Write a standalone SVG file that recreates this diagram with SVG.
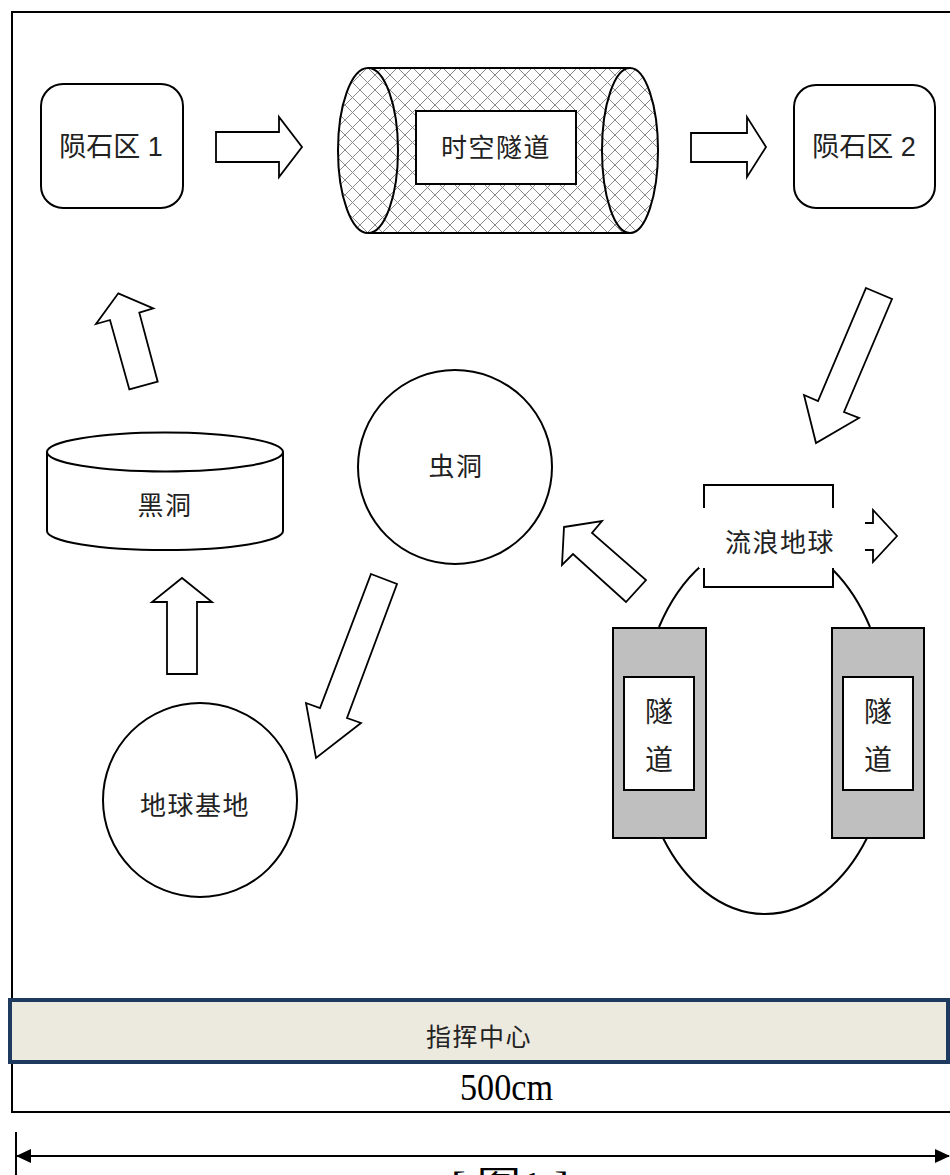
<svg xmlns="http://www.w3.org/2000/svg" width="950" height="1175" viewBox="0 0 950 1175">
<defs>
<style>
.ln{fill:none;stroke:#000;stroke-width:2}
.shape{fill:#fff;stroke:#000;stroke-width:2}
.arr{fill:#fff;stroke:#000;stroke-width:1.8;stroke-linejoin:miter}
.lbl{font-family:"Liberation Sans","Noto Sans CJK SC",sans-serif;font-size:26px;letter-spacing:1.5px;fill:#222;text-anchor:middle;dominant-baseline:central}
.trk{fill:#bfbfbf;stroke:#000;stroke-width:2}
</style>
<pattern id="hatch" patternUnits="userSpaceOnUse" width="15" height="15">
<path d="M0,0 L15,15 M15,0 L0,15" stroke="#8a8a8a" stroke-width="1"/>
</pattern>
<marker id="ah" markerWidth="15" markerHeight="14" refX="14" refY="7" orient="auto-start-reverse" markerUnits="userSpaceOnUse">
<path d="M0,0 L15,7 L0,14 Z" fill="#000"/>
</marker>
</defs>
<rect width="950" height="1175" fill="#fff"/>

<g id="frame">
<path class="ln" d="M950,12 H12 V1112 H950"/>
</g>

<g id="connectors">
<path class="arr" d="M216,132 H279 V117 L302,147 L279,177 V162 H216 Z"/>
<path class="arr" d="M691,133 H747 V117 L766,147 L747,177 V162 H691 Z"/>
<polygon class="arr" points="866,288 892,299 844,412 859,418 816,443 804,395 818,401"/>
<polygon class="arr" points="129.3,389.3 110,320 96,324 118.3,293.3 153.3,308.3 139.3,312.7 157.7,381.7"/>
<path class="arr" d="M167,674 V602 H152 L182,578 L212,602 H197 V674 Z"/>
<polygon class="arr" points="371,574 397,584 347,718 361,723 316,758 306,703 320,708"/>
<polygon class="arr" points="564,527 602,521 592,533 646,580 626,602 573,554 562,565"/>
<path class="arr" d="M865,523 H873 V510 L897,536 L873,562 V550 H865"/>
</g>

<g id="node-meteor1">
<rect class="shape" x="41" y="84" width="142" height="124" rx="22"/>
<text class="lbl" x="111" y="147" style="font-size:27px;letter-spacing:0">陨石区 1</text>
</g>

<g id="node-tunnel">
<path d="M368,68 H630 A28,82.5 0 0 1 630,233 H368 A30,82.5 0 0 1 368,68 Z" fill="url(#hatch)"/>
<ellipse cx="630" cy="150.5" rx="28" ry="82.5" fill="url(#hatch)"/>
<path class="ln" d="M368,68 H630 M368,233 H630"/>
<ellipse class="ln" cx="368" cy="150.5" rx="30" ry="82.5"/>
<ellipse class="ln" cx="630" cy="150.5" rx="28" ry="82.5"/>
<rect class="shape" x="416" y="111" width="160" height="73"/>
<text class="lbl" x="496" y="148">时空隧道</text>
</g>

<g id="node-meteor2">
<rect class="shape" x="794" y="85" width="141" height="123" rx="22"/>
<text class="lbl" x="864" y="147" style="font-size:27px;letter-spacing:0">陨石区 2</text>
</g>

<g id="node-blackhole">
<path class="shape" d="M47,452 V531 A118,19 0 0 0 283,531 V452"/>
<ellipse class="shape" cx="165" cy="452" rx="118" ry="19.5"/>
<text class="lbl" x="165" y="506">黑洞</text>
</g>

<g id="node-wormhole">
<circle class="shape" cx="455" cy="467" r="97"/>
<text class="lbl" x="456" y="467">虫洞</text>
</g>

<g id="node-earthbase">
<circle class="shape" cx="200" cy="800" r="97"/>
<text class="lbl" x="195" y="806">地球基地</text>
</g>

<g id="node-wandering-earth">
<path class="ln" d="M702,565 A127,188 0 0 0 659,627"/>
<path class="ln" d="M833,570 A127,188 0 0 1 870,627"/>
<path class="ln" d="M663,838 A127,188 0 0 0 867,838"/>
<rect class="shape" x="704" y="485" width="129" height="102"/>
<rect x="699" y="508" width="165" height="60" fill="#fff"/>
<text class="lbl" x="780" y="543">流浪地球</text>
</g>

<g id="node-track-left">
<rect class="trk" x="613" y="628" width="93" height="210"/>
<rect class="shape" x="624" y="677" width="70" height="113"/>
<text class="lbl" x="659" y="712" style="font-size:28px;letter-spacing:0">隧</text>
<text class="lbl" x="659" y="760" style="font-size:28px;letter-spacing:0">道</text>
</g>

<g id="node-track-right">
<rect class="trk" x="832" y="628" width="92" height="210"/>
<rect class="shape" x="843" y="677" width="70" height="113"/>
<text class="lbl" x="878" y="712" style="font-size:28px;letter-spacing:0">隧</text>
<text class="lbl" x="878" y="760" style="font-size:28px;letter-spacing:0">道</text>
</g>

<g id="node-command">
<rect x="10" y="1000" width="938" height="62" fill="#ece9df" stroke="#1f3a5f" stroke-width="4"/>
<text class="lbl" x="479" y="1037" style="font-size:25px">指挥中心</text>
</g>

<g id="dimension">
<text x="460" y="1100" textLength="93" lengthAdjust="spacingAndGlyphs" font-family="Liberation Serif, serif" font-size="38" fill="#000">500cm</text>
<path class="ln" d="M16,1132 V1175"/>
<path d="M17,1156 H949" stroke="#000" stroke-width="2" marker-start="url(#ah)" marker-end="url(#ah)"/>
<text x="451" y="1194" textLength="118" lengthAdjust="spacingAndGlyphs" font-family="Liberation Serif, Noto Sans CJK SC, serif" font-size="32" fill="#000" xml:space="preserve">[ 图1 ]</text>
</g>
</svg>
